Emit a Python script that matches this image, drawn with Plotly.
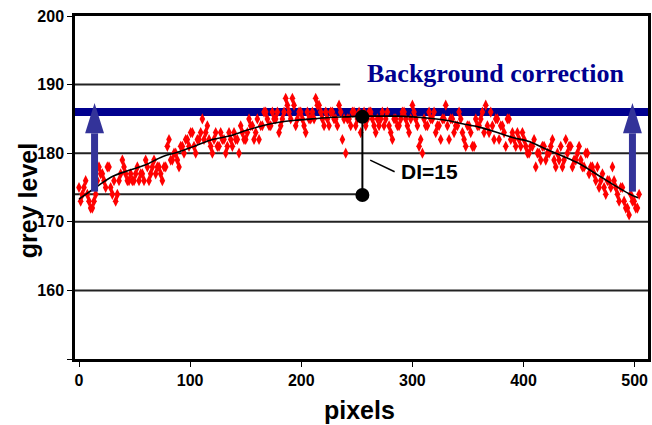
import plotly.graph_objects as go

# ---- data ----
PIXELS = list(range(0, 505, 3))
GREY = [
    175, 174, 176, 173, 172, 174, 178, 177, 175, 178,
    174, 173, 176, 179, 177, 176, 176, 177, 176, 177,
    179, 176, 178, 177, 178, 176, 178, 182, 179, 180,
    178, 181, 182, 181, 183, 180, 182, 185, 183, 182,
    180, 183, 181, 182, 180, 183, 181, 182, 180, 183,
    182, 185, 184, 183, 182, 184, 186, 184, 186, 185,
    183, 185, 188, 186, 188, 184, 186, 185, 183, 185,
    186, 188, 187, 185, 186, 184, 186, 185, 187, 182,
    180, 185, 186, 184, 186, 185, 184, 186, 185, 183,
    184, 186, 185, 184, 182, 185, 184, 186, 185, 183,
    187, 185, 181, 180, 184, 186, 185, 183, 184, 185,
    187, 182, 185, 184, 186, 183, 181, 184, 181, 185,
    184, 186, 187, 183, 184, 185, 182, 184, 181, 185,
    183, 181, 182, 183, 181, 180, 181, 178, 180, 181,
    179, 180, 182, 178, 179, 178, 182, 181, 178, 179,
    181, 178, 180, 177, 178, 176, 175, 177, 174, 176,
    178, 175, 173, 175, 172, 171, 173, 172, 174,
]
PIXELS_B = [p + 1.5 for p in range(0, 502, 3)]
GREY_B = [
    173, 175, 174, 172, 173, 176, 177, 176, 178, 175,
    176, 174, 177, 178, 176, 177, 176, 178, 177, 176,
    178, 177, 179, 178, 177, 178, 181, 179, 180, 179,
    181, 180, 182, 183, 181, 182, 183, 182, 184, 181,
    182, 181, 183, 182, 181, 182, 183, 182, 184, 182,
    183, 184, 182, 185, 184, 186, 185, 184, 185, 186,
    184, 186, 187, 185, 187, 185, 186, 184, 186, 185,
    185, 187, 186, 184, 185, 186, 185, 184, 186, 185,
    185, 184, 186, 185, 183, 186, 185, 186, 184, 185,
    185, 184, 186, 183, 185, 184, 185, 186, 184, 185,
    186, 184, 182, 185, 184, 185, 186, 184, 182, 185,
    184, 185, 183, 184, 185, 182, 184, 183, 181, 184,
    185, 183, 184, 186, 182, 185, 184, 183, 185, 182,
    182, 183, 181, 182, 180, 181, 182, 180, 179, 181,
    180, 181, 179, 180, 181, 179, 180, 181, 179, 180,
    179, 178, 180, 178, 177, 178, 176, 175, 176, 175,
    176, 174, 175, 173, 172, 174, 173, 172,
]
SMOOTH_X = [0, 15, 30, 45, 60, 75, 90, 105, 120, 135, 150, 165, 180, 195, 210,
            225, 240, 255, 270, 285, 300, 315, 330, 345, 360, 375, 390, 405, 420,
            435, 450, 465, 480, 495, 503]
SMOOTH_Y = [173.3, 175.0, 176.6, 177.5, 178.3, 179.5, 180.2, 181.1, 182.0, 182.5,
            183.3, 184.0, 184.5, 184.8, 185.0, 185.2, 185.3, 185.4, 185.4, 185.4,
            185.3, 185.1, 184.8, 184.3, 183.8, 183.1, 182.3, 181.7, 180.6, 179.6,
            178.5, 177.0, 175.5, 174.1, 173.5]

Y_TICKS = [150, 160, 170, 180, 190, 200]
Y_TICK_TEXT = ["", "160", "170", "180", "190", "200"]
X_TICKS = [0, 100, 200, 300, 400, 500]
FULL_GRID = [160, 170, 180]
PARTIAL_GRID = 190
PARTIAL_GRID_END = 235

BACKGROUND = 186
MIN_LEVEL = 174
DI_X = 255
DI_TOP = 185.3
DI_BOTTOM = 173.9
ARROW_X = [14, 498]
ARROW_BASE = 174.4
ARROW_TIP = 187.3
ARROW_HEAD_BASE = 182.9
ARROW_HEAD_HALF = 8.5

X_RANGE = [-3.6, 512]
Y_RANGE = [150, 200]

FONT = "Liberation Sans, Arial, sans-serif"
NAVY = "#00008f"
ARROW_COL = "#333399"
RED = "#ff0000"

fig = go.Figure()

shapes = []
for g in FULL_GRID:
    shapes.append(dict(type="line", xref="paper", x0=0, x1=1, yref="y", y0=g, y1=g,
                       line=dict(color="#222", width=2), layer="below"))
shapes.append(dict(type="line", xref="x", x0=X_RANGE[0], x1=PARTIAL_GRID_END, yref="y",
                   y0=PARTIAL_GRID, y1=PARTIAL_GRID, line=dict(color="#222", width=2), layer="below"))
shapes.append(dict(type="line", xref="x", x0=X_RANGE[0], x1=DI_X, yref="y",
                   y0=MIN_LEVEL, y1=MIN_LEVEL, line=dict(color="#222", width=2), layer="below"))
# background level line, drawn under the data points
shapes.append(dict(type="line", xref="paper", x0=0, x1=1, yref="y", y0=BACKGROUND, y1=BACKGROUND,
                   line=dict(color=NAVY, width=8), layer="below"))
fig.update_layout(shapes=shapes)

for xs, ys in ((PIXELS, GREY), (PIXELS_B, GREY_B)):
    fig.add_trace(go.Scatter(x=xs, y=ys, mode="markers",
                             marker=dict(symbol="diamond-tall", size=8, color=RED,
                                         line=dict(width=0)),
                             hoverinfo="skip", showlegend=False))
fig.add_trace(go.Scatter(x=SMOOTH_X, y=SMOOTH_Y, mode="lines",
                         line=dict(color="black", width=1.6, shape="spline"),
                         showlegend=False))

for ax in ARROW_X:
    fig.add_shape(type="line", x0=ax, x1=ax, y0=ARROW_BASE, y1=ARROW_HEAD_BASE,
                  line=dict(color=ARROW_COL, width=7))
    fig.add_shape(type="path",
                  path=f"M {ax - ARROW_HEAD_HALF},{ARROW_HEAD_BASE} L {ax + ARROW_HEAD_HALF},{ARROW_HEAD_BASE} L {ax},{ARROW_TIP} Z",
                  fillcolor=ARROW_COL, line=dict(width=0))

fig.add_trace(go.Scatter(x=[DI_X, DI_X], y=[DI_TOP, DI_BOTTOM], mode="lines+markers",
                         line=dict(color="black", width=2),
                         marker=dict(size=14, color="black"), showlegend=False))
fig.add_shape(type="line", x0=DI_X + 7, x1=DI_X + 29, y0=179.0, y1=177.3,
              line=dict(color="black", width=1.5))

fig.add_annotation(x=DI_X + 33, y=177.3, text="<b>DI=15</b>", showarrow=False,
                   xanchor="left", yanchor="middle",
                   font=dict(family=FONT, size=21, color="black"))
fig.add_annotation(x=375, y=191.6, text="<b>Background correction</b>", showarrow=False,
                   xanchor="center", yanchor="middle",
                   font=dict(family="Liberation Serif, Times New Roman, serif", size=26, color=NAVY))

# axis titles
fig.add_annotation(xref="paper", yref="paper", x=0.497, y=0, yshift=-51,
                   text="<b>pixels</b>", showarrow=False, xanchor="center", yanchor="middle",
                   font=dict(family=FONT, size=25, color="black"))
fig.add_annotation(xref="paper", yref="paper", x=0, xshift=-47, y=0.46,
                   text="<b>grey level</b>", showarrow=False, textangle=-90,
                   xanchor="center", yanchor="middle",
                   font=dict(family=FONT, size=25, color="black"))

fig.update_xaxes(range=X_RANGE, tickvals=X_TICKS, ticks="outside", ticklen=5,
                 tickcolor="black", showgrid=False, zeroline=False, automargin=False,
                 showline=True, linecolor="black", linewidth=3, mirror=True,
                 tickfont=dict(family=FONT, size=16, color="black", weight="bold"))
fig.update_yaxes(range=Y_RANGE, tickvals=Y_TICKS, ticktext=Y_TICK_TEXT,
                 ticks="outside", ticklen=5, tickcolor="black", automargin=False,
                 showgrid=False, zeroline=False,
                 showline=True, linecolor="black", linewidth=2.5, mirror=True,
                 tickfont=dict(family=FONT, size=16, color="black", weight="bold"))

fig.update_layout(width=652, height=425, margin=dict(l=75, r=4, t=16, b=66),
                  plot_bgcolor="white", paper_bgcolor="white", showlegend=False)

fig.write_html("out.html", config={"displayModeBar": False},
               post_script="document.body.style.margin='0';document.body.style.overflow='hidden';")
